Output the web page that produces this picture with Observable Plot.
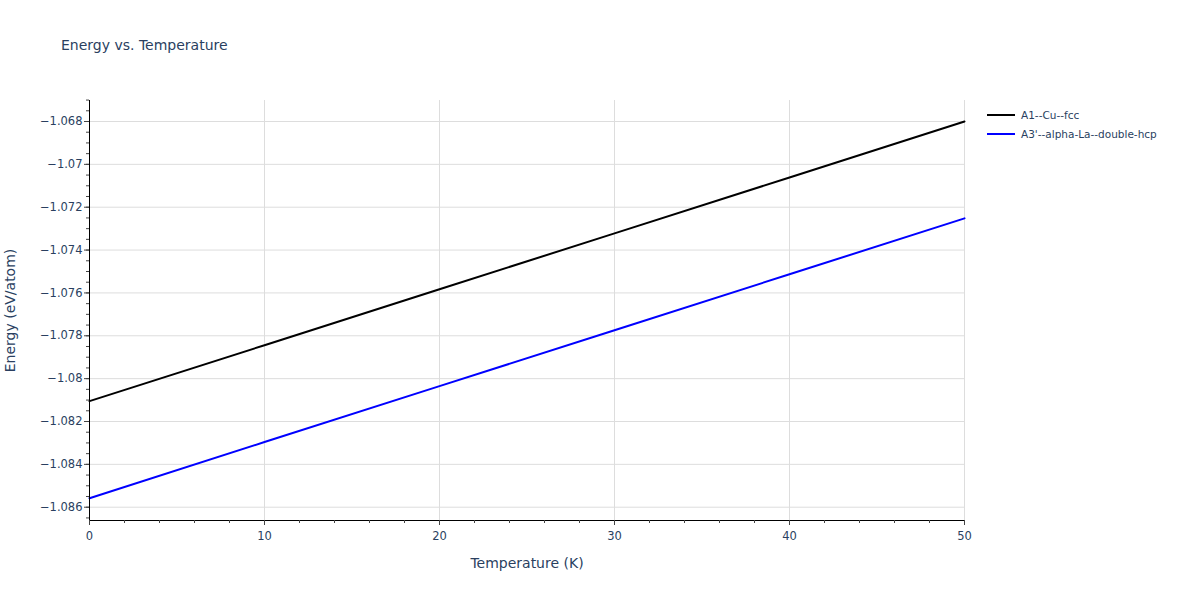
<!DOCTYPE html>
<html>
<head>
<meta charset="utf-8">
<script src="https://cdn.jsdelivr.net/npm/d3@7"></script>
<script src="https://cdn.jsdelivr.net/npm/@observablehq/plot@0.6"></script>
<style>
  html, body { margin: 0; padding: 0; background: #fff; }
  #wrap { position: relative; width: 1200px; height: 600px; font-family: "DejaVu Sans", sans-serif; }
  #title { position: absolute; left: 61px; top: 36px; font-size: 14px; line-height: 18px; color: #2a3f5f; white-space: nowrap; }
  #legend { position: absolute; left: 987px; top: 105px; font-size: 10.5px; color: #2a3f5f; }
  .item { display: flex; align-items: center; height: 19px; white-space: nowrap; }
  .sw { width: 28px; height: 2px; margin-right: 6px; }
  #chart { position: absolute; left: 0; top: 0; }
</style>
</head>
<body>
<div id="wrap">
  <div id="chart"></div>
  <div id="title">Energy vs. Temperature</div>
  <div id="legend"></div>
</div>
<script>
const seriesNames = ["A1--Cu--fcc", "A3'--alpha-La--double-hcp"];
const seriesColors = ["#000000", "#0000ff"];
const temperature = [0, 10, 20, 30, 40, 50];
const energyCu = [-1.08105, -1.07844, -1.07583, -1.07322, -1.07061, -1.06800];
const energyLa = [-1.08558, -1.08296, -1.08035, -1.07774, -1.07513, -1.07252];
const xTicks = [0, 10, 20, 30, 40, 50];
const xMinorTicks = d3.range(0, 50.001, 2);
const yTicks = [-1.086, -1.084, -1.082, -1.08, -1.078, -1.076, -1.074, -1.072, -1.07, -1.068];
const yMinorTicks = d3.range(-1.0865, -1.0670, 0.0005).map(v => +v.toFixed(4));
const xDomain = [0, 50];
const yDomain = [-1.08662, -1.06702];

const data = [];
temperature.forEach((t, i) => {
  data.push({series: seriesNames[0], T: t, E: energyCu[i]});
  data.push({series: seriesNames[1], T: t, E: energyLa[i]});
});

const fmtY = d => d.toFixed(3).replace(/0+$/, "").replace(/\.$/, "").replace("-", "\u2212");
const txt = "#2a3f5f";

const chart = Plot.plot({
  width: 1200,
  height: 600,
  marginLeft: 89,
  marginRight: 236,
  marginTop: 100,
  marginBottom: 80,
  style: {fontFamily: "'DejaVu Sans', sans-serif", fontSize: "11.5px", color: txt, background: "white"},
  x: {domain: xDomain},
  y: {domain: yDomain},
  color: {domain: seriesNames, range: seriesColors},
  marks: [
    Plot.gridX(xTicks, {stroke: "#dddddd", strokeOpacity: 1}),
    Plot.gridY(yTicks, {stroke: "#dddddd", strokeOpacity: 1}),
    Plot.line(data, {x: "T", y: "E", z: "series", stroke: "series", strokeWidth: 2}),
    Plot.ruleX([xDomain[0]], {stroke: "#000", strokeWidth: 1}),
    Plot.ruleY([yDomain[0]], {stroke: "#000", strokeWidth: 1}),
    Plot.axisX(xMinorTicks, {tickSize: 3, tickFormat: () => "", label: null, stroke: "#444"}),
    Plot.axisX(xTicks, {tickSize: 5, tickPadding: 6, label: null, stroke: "#444", fill: txt, fontSize: 11.5}),
    Plot.axisY(yMinorTicks, {tickSize: 3, tickFormat: () => "", label: null, stroke: "#444"}),
    Plot.axisY(yTicks, {tickSize: 5, tickPadding: 2, tickFormat: fmtY, label: null, stroke: "#444", fill: txt, fontSize: 11.5}),
    Plot.text(["Temperature (K)"], {frameAnchor: "bottom", textAnchor: "middle", lineAnchor: "middle", dy: 43, fill: txt, fontSize: 14}),
    Plot.text(["Energy (eV/atom)"], {frameAnchor: "left", textAnchor: "middle", lineAnchor: "middle", dx: -79, rotate: -90, fill: txt, fontSize: 14})
  ]
});
document.getElementById("chart").appendChild(chart);

const legend = document.getElementById("legend");
seriesNames.forEach((n, i) => {
  const d = document.createElement("div");
  d.className = "item";
  d.innerHTML = `<div class="sw" style="background:${seriesColors[i]}"></div><span>${n}</span>`;
  legend.appendChild(d);
});
</script>
</body>
</html>
